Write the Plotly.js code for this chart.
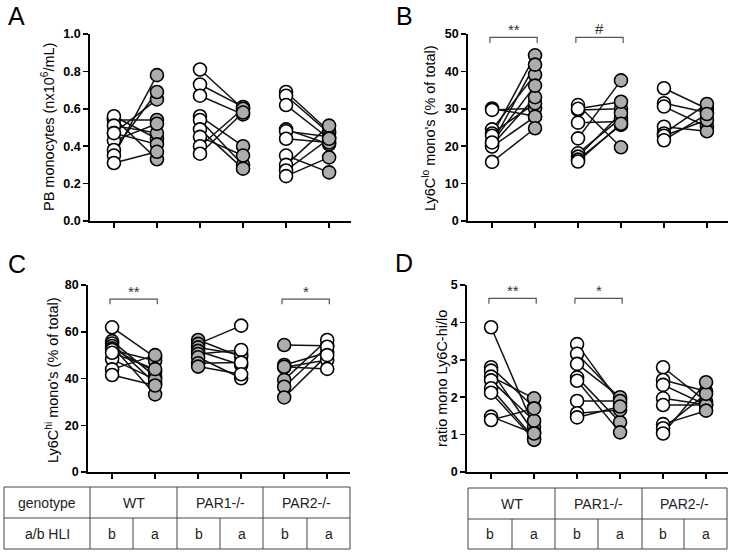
<!DOCTYPE html>
<html>
<head>
<meta charset="utf-8">
<script src="https://cdn.plot.ly/plotly-3.0.1.min.js"></script>
<style>html,body{margin:0;padding:0;background:#fff;}#chart{width:733px;height:554px;}</style>
</head>
<body>
<div id="chart"></div>
<script>
// ---------- categories / labels ----------
const genotypes = ['WT', 'PAR1-/-', 'PAR2-/-'];
const hliLabels = ['b', 'a'];
const rowLabels = ['genotype', 'a/b HLI'];
const panelLetters = ['A', 'B', 'C', 'D'];
const yTitles = [
  'PB monocytes (nx10<sup>6</sup>/mL)',
  'Ly6C<sup>lo</sup> mono\'s (% of total)',
  'Ly6C<sup>hi</sup> mono\'s (% of total)',
  'ratio mono Ly6C-hi/lo'
];
const xTickVals = [1, 2, 3, 4, 5, 6];
const yTicksA = [0, 0.2, 0.4, 0.6, 0.8, 1.0];
const yLabelsA = ['0.0', '0.2', '0.4', '0.6', '0.8', '1.0'];
const yTicksB = [0, 10, 20, 30, 40, 50];
const yTicksC = [0, 20, 40, 60, 80];
const yTicksD = [0, 1, 2, 3, 4, 5];

// ---------- Panel A: PB monocytes ----------
const A_WT_b   = [0.55, 0.54, 0.56, 0.51, 0.47, 0.43, 0.47, 0.38, 0.35, 0.31];
const A_WT_a   = [0.33, 0.54, 0.44, 0.47, 0.65, 0.52, 0.41, 0.69, 0.78, 0.37];
const A_PAR1_b = [0.81, 0.73, 0.67, 0.56, 0.54, 0.49, 0.45, 0.40, 0.36];
const A_PAR1_a = [0.60, 0.61, 0.57, 0.40, 0.30, 0.28, 0.35, 0.60, 0.58];
const A_PAR2_b = [0.69, 0.67, 0.62, 0.49, 0.48, 0.44, 0.35, 0.30, 0.27, 0.24];
const A_PAR2_a = [0.48, 0.47, 0.44, 0.41, 0.45, 0.42, 0.26, 0.51, 0.44, 0.34];

// ---------- Panel B: Ly6C lo ----------
const B_WT_b   = [30.1, 29.7, 24.5, 23.4, 22.8, 20.8, 20.3, 19.9, 15.8, 21.0];
const B_WT_a   = [28.0, 30.1, 39.1, 31.5, 44.3, 41.8, 33.1, 27.9, 24.8, 36.2];
const B_PAR1_b = [31.0, 29.7, 26.3, 22.1, 18.1, 17.2, 16.4, 15.9, 30.0];
const B_PAR1_a = [19.7, 30.0, 26.6, 37.6, 27.5, 28.8, 25.7, 26.0, 31.9];
const B_PAR2_b = [35.5, 31.5, 30.6, 25.2, 23.4, 22.8, 21.6];
const B_PAR2_a = [30.0, 29.0, 25.2, 24.0, 31.3, 27.0, 28.6];

// ---------- Panel C: Ly6C hi ----------
const C_WT_b   = [61.9, 56.0, 55.0, 53.9, 52.9, 52.2, 48.2, 43.9, 41.5, 51.0];
const C_WT_a   = [49.0, 40.8, 37.9, 33.2, 42.9, 47.6, 39.6, 50.0, 37.0, 44.0];
const C_PAR1_b = [56.5, 54.8, 53.3, 51.8, 50.5, 49.1, 46.5, 45.1];
const C_PAR1_a = [49.3, 62.6, 50.3, 45.8, 52.2, 40.1, 46.8, 41.8];
const C_PAR2_b = [54.3, 45.8, 44.8, 39.4, 36.5, 31.9, 45.0];
const C_PAR2_a = [54.0, 51.1, 47.9, 56.5, 53.6, 50.0, 44.1];

// ---------- Panel D: ratio hi/lo ----------
const D_WT_b   = [3.87, 2.80, 2.71, 2.55, 2.45, 2.24, 2.12, 1.48, 1.39];
const D_WT_a   = [1.20, 1.73, 1.05, 1.97, 1.37, 0.90, 0.86, 1.03, 1.70];
const D_PAR1_b = [3.42, 3.16, 2.89, 2.53, 2.44, 1.90, 1.57, 1.46];
const D_PAR1_a = [1.84, 1.95, 2.00, 1.33, 1.06, 1.90, 1.66, 1.75];
const D_PAR2_b = [2.80, 2.46, 2.33, 1.97, 1.79, 1.28, 1.17, 1.03];
const D_PAR2_a = [1.88, 2.16, 1.79, 1.80, 1.79, 1.64, 2.09, 2.40];

// significance marks (group index, label)
const sigB = [{g: 0, text: '**'}, {g: 1, text: '#'}];
const sigC = [{g: 0, text: '**'}, {g: 2, text: '*'}];
const sigD = [{g: 0, text: '**'}, {g: 1, text: '*'}];

// ---------- layout helpers ----------
const W = 733, H = 554;
const px = v => v / W;
const py = v => 1 - v / H;
const WHITE = '#ffffff', GRAY = '#adadad';
const FONT = 'Liberation Sans, Arial, Helvetica, sans-serif';

const panels = [
  {id: '', data: [[A_WT_b, A_WT_a], [A_PAR1_b, A_PAR1_a], [A_PAR2_b, A_PAR2_a]],
   fills: [[WHITE, GRAY], [WHITE, GRAY], [WHITE, GRAY]],
   xd: [90, 351], yd: [221, 34], xr: [0.444, 6.509], yr: [0, 1],
   tv: yTicksA, tt: yLabelsA,
   sig: [], brk: null,
   letter: [16.5, 16], title: [59, 127]},
  {id: '2', data: [[B_WT_b, B_WT_a], [B_PAR1_b, B_PAR1_a], [B_PAR2_b, B_PAR2_a]],
   fills: [[WHITE, GRAY], [WHITE, GRAY], [WHITE, GRAY]],
   xd: [468, 728], yd: [221, 34], xr: [0.44, 6.49], yr: [0, 50],
   tv: yTicksB, tt: yTicksB.map(String),
   sig: sigB, brk: {top: 49.1, leg: 47.6, txtPx: 30},
   letter: [404, 16], title: [440, 128]},
  {id: '3', data: [[C_WT_b, C_WT_a], [C_PAR1_b, C_PAR1_a], [C_PAR2_b, C_PAR2_a]],
   fills: [[WHITE, GRAY], [GRAY, WHITE], [GRAY, WHITE]],
   xd: [88, 350], yd: [472, 285], xr: [0.44, 6.53], yr: [0, 80],
   tv: yTicksC, tt: yTicksC.map(String),
   sig: sigC, brk: {top: 74.0, leg: 71.8, txtPx: 291.5},
   letter: [16.5, 264], title: [63, 380]},
  {id: '4', data: [[D_WT_b, D_WT_a], [D_PAR1_b, D_PAR1_a], [D_PAR2_b, D_PAR2_a]],
   fills: [[WHITE, GRAY], [WHITE, GRAY], [WHITE, GRAY]],
   xd: [467, 728], yd: [472, 285], xr: [0.44, 6.51], yr: [0, 5],
   tv: yTicksD, tt: yTicksD.map(String),
   sig: sigD, brk: {top: 4.64, leg: 4.50, txtPx: 290.5},
   letter: [404, 263], title: [452, 379]}
];

const traces = [];
const layout = {
  width: W, height: H,
  margin: {l: 0, r: 0, t: 0, b: 0},
  paper_bgcolor: '#fff', plot_bgcolor: 'rgba(0,0,0,0)',
  showlegend: false,
  font: {family: FONT, color: '#000'},
  shapes: [], annotations: []
};

panels.forEach((p, pi) => {
  const xa = 'x' + p.id, ya = 'y' + p.id;
  // connecting lines
  p.data.forEach((pair, g) => {
    const xs = [], ys = [];
    pair[0].forEach((v, i) => {
      xs.push(2 * g + 1, 2 * g + 2, null);
      ys.push(v, pair[1][i], null);
    });
    traces.push({x: xs, y: ys, xaxis: xa, yaxis: ya, mode: 'lines',
      line: {color: '#111', width: 1.5}, hoverinfo: 'skip', cliponaxis: false});
  });
  // markers
  p.data.forEach((pair, g) => {
    [0, 1].forEach(k => {
      traces.push({x: pair[k].map(() => 2 * g + 1 + k), y: pair[k], xaxis: xa, yaxis: ya,
        mode: 'markers', cliponaxis: false,
        marker: {size: 13, color: p.fills[g][k], line: {color: '#000', width: 1.6}}});
    });
  });
  const xKey = 'xaxis' + p.id, yKey = 'yaxis' + p.id;
  layout[xKey] = {
    domain: [px(p.xd[0]), px(p.xd[1])], range: p.xr, anchor: ya,
    showline: true, linewidth: 1.8, linecolor: '#000', showgrid: false, zeroline: false,
    ticks: 'outside', ticklen: 5, tickwidth: 1.5, tickcolor: '#000',
    tickvals: xTickVals, showticklabels: false, fixedrange: true
  };
  layout[yKey] = {
    domain: [py(p.yd[0]), py(p.yd[1])], range: p.yr, anchor: xa,
    showline: true, linewidth: 1.8, linecolor: '#000', showgrid: false, zeroline: false,
    ticks: 'outside', ticklen: 5, tickwidth: 1.5, tickcolor: '#000',
    tickvals: p.tv, ticktext: p.tt.map(t => '<b>' + t + '</b>'),
    tickfont: {family: FONT, size: 12.5, color: '#000'}, fixedrange: true
  };
  // significance brackets
  p.sig.forEach(s => {
    const x1 = 2 * s.g + 0.95, x2 = 2 * s.g + 2.05;
    layout.shapes.push({type: 'path', xref: xa, yref: ya,
      path: `M ${x1},${p.brk.leg} L ${x1},${p.brk.top} L ${x2},${p.brk.top} L ${x2},${p.brk.leg}`,
      line: {color: '#555', width: 1.2}});
    layout.annotations.push({xref: xa, yref: 'paper', x: 2 * s.g + 1.5,
      y: py(s.text === '#' ? p.brk.txtPx - 2 : p.brk.txtPx),
      text: s.text, showarrow: false, font: {family: FONT, size: 15, color: '#333'},
      xanchor: 'center', yanchor: 'middle'});
  });
  // letter
  layout.annotations.push({xref: 'paper', yref: 'paper', x: px(p.letter[0]), y: py(p.letter[1]),
    text: panelLetters[pi], showarrow: false, font: {family: FONT, size: 25, color: '#000'},
    xanchor: 'center', yanchor: 'middle'});
  // y title (anchored by its bottom/descender side, i.e. right edge after rotation)
  layout.annotations.push({xref: 'paper', yref: 'paper', x: px(p.title[0]), y: py(p.title[1]),
    text: yTitles[pi], showarrow: false, textangle: -90,
    font: {family: FONT, size: 14.5, color: '#000'}, xanchor: 'right', yanchor: 'middle'});
});

// ---------- tables ----------
const TL = '#444';
function hline(x0, x1, y) {
  layout.shapes.push({type: 'line', xref: 'paper', yref: 'paper',
    x0: px(x0), x1: px(x1), y0: py(y), y1: py(y), line: {color: TL, width: 1}});
}
function vline(x, y0, y1) {
  layout.shapes.push({type: 'line', xref: 'paper', yref: 'paper',
    x0: px(x), x1: px(x), y0: py(y0), y1: py(y1), line: {color: TL, width: 1}});
}
function cellText(t, xc, yc) {
  layout.annotations.push({xref: 'paper', yref: 'paper', x: px(xc), y: py(yc), text: t,
    showarrow: false, font: {family: FONT, size: 14, color: '#222'},
    xanchor: 'center', yanchor: 'middle'});
}
function drawTable(xs, ys, withRowLabels) {
  const x0 = xs[0], xEnd = xs[xs.length - 1];
  hline(x0, xEnd, ys[0]); hline(x0, xEnd, ys[1]); hline(x0, xEnd, ys[2]);
  const off = withRowLabels ? 1 : 0;
  vline(x0, ys[0], ys[2]);
  if (withRowLabels) {
    vline(xs[1], ys[0], ys[2]);
    rowLabels.forEach((r, i) => cellText(r, (xs[0] + xs[1]) / 2, (ys[i] + ys[i + 1]) / 2));
  }
  genotypes.forEach((gname, g) => {
    const a = xs[off + 2 * g], m = xs[off + 2 * g + 1], b = xs[off + 2 * g + 2];
    vline(b, ys[0], ys[2]);
    vline(m, ys[1], ys[2]);
    cellText(gname, (a + b) / 2, (ys[0] + ys[1]) / 2);
    cellText(hliLabels[0], (a + m) / 2, (ys[1] + ys[2]) / 2);
    cellText(hliLabels[1], (m + b) / 2, (ys[1] + ys[2]) / 2);
  });
}
drawTable([4, 90, 133, 177, 220, 263, 307, 350], [487, 518, 549], true);
drawTable([468, 512, 555, 598, 642, 684, 727], [488, 519, 549], false);

Plotly.newPlot('chart', traces, layout, {staticPlot: true, displayModeBar: false});
</script>
</body>
</html>
